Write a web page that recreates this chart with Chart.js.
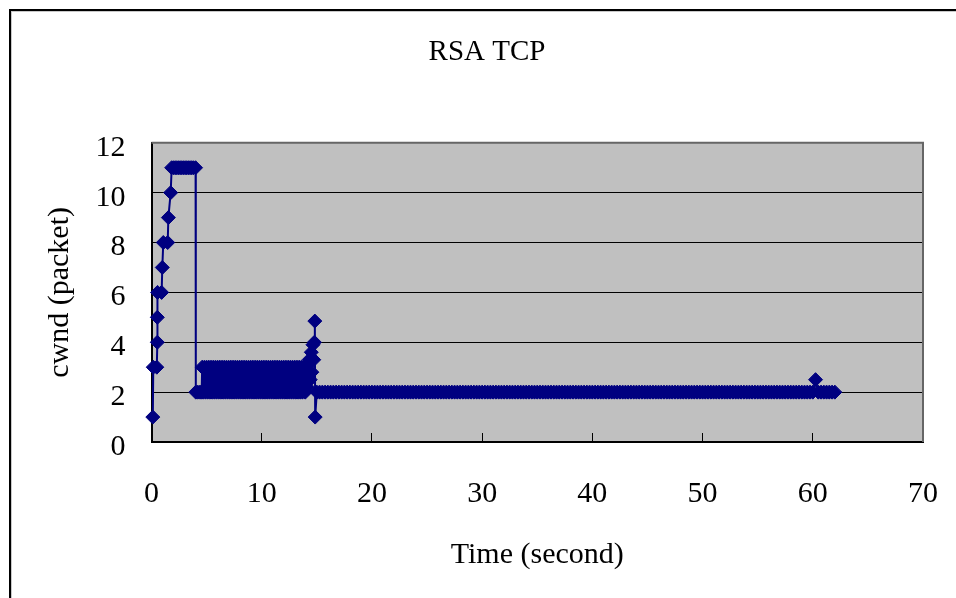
<!DOCTYPE html>
<html><head><meta charset="utf-8">
<script src="https://cdn.jsdelivr.net/npm/chart.js@4"></script>
<style>
html,body{margin:0;padding:0;background:#fff;overflow:hidden;}
#wrap{position:relative;width:956px;height:598px;overflow:hidden;}
#frame{position:absolute;left:9px;top:9px;width:1000px;height:1000px;border-top:2px solid #000;border-left:2px solid #000;box-shadow:inset 1px 1px 0 #c8c8c8;}
canvas{position:absolute;left:0;top:0;}
</style></head>
<body><div id="wrap"><div id="frame"></div><canvas id="c" width="956" height="598"></canvas></div>
<script>
// ---- data (time in seconds, cwnd in packets) ----
const riseTime = [0.12, 0.16, 0.48, 0.53, 0.53, 0.55, 0.92, 0.98, 1.07, 1.47, 1.53, 1.74];
const riseCwnd = [1, 3, 3, 4, 5, 6, 6, 7, 8, 8, 9, 10];

const plateauTime = [1.83, 2.0, 2.15, 2.3, 2.45, 2.6, 2.75, 2.9, 3.05, 3.2, 3.35, 3.5, 3.65, 3.8, 4.0];
const plateauCwnd = [11, 11, 11, 11, 11, 11, 11, 11, 11, 11, 11, 11, 11, 11, 11];

const dropTime = [4.02, 4.2, 4.4, 4.55];
const dropCwnd = [2, 2, 2, 2];

const bandTime = [
  4.6, 4.7, 4.8, 4.9, 5.0, 5.1, 5.2, 5.3, 5.4, 5.5,
  5.6, 5.7, 5.8, 5.9, 6.0, 6.1, 6.2, 6.3, 6.4, 6.5,
  6.6, 6.7, 6.8, 6.9, 7.0, 7.1, 7.2, 7.3, 7.4, 7.5,
  7.6, 7.7, 7.8, 7.9, 8.0, 8.1, 8.2, 8.3, 8.4, 8.5,
  8.6, 8.7, 8.8, 8.9, 9.0, 9.1, 9.2, 9.3, 9.4, 9.5,
  9.6, 9.7, 9.8, 9.9, 10.0, 10.1, 10.2, 10.3, 10.4, 10.5,
  10.6, 10.7, 10.8, 10.9, 11.0, 11.1, 11.2, 11.3, 11.4, 11.5,
  11.6, 11.7, 11.8, 11.9, 12.0, 12.1, 12.2, 12.3, 12.4, 12.5,
  12.6, 12.7, 12.8, 12.9, 13.0, 13.1, 13.2, 13.3, 13.4, 13.5,
  13.6, 13.7, 13.8];
const bandCwnd = [
  3, 2, 3, 2, 3, 2, 3, 2, 3, 2,
  3, 2, 3, 2, 3, 2, 3, 2, 3, 2,
  3, 2, 3, 2, 3, 2, 3, 2, 3, 2,
  3, 2, 3, 2, 3, 2, 3, 2, 3, 2,
  3, 2, 3, 2, 3, 2, 3, 2, 3, 2,
  3, 2, 3, 2, 3, 2, 3, 2, 3, 2,
  3, 2, 3, 2, 3, 2, 3, 2, 3, 2,
  3, 2, 3, 2, 3, 2, 3, 2, 3, 2,
  3, 2, 3, 2, 3, 2, 3, 2, 3, 2,
  3, 2, 3];

const burstTime = [13.95, 14.05, 14.15, 14.3, 14.4, 14.5, 14.55, 14.65, 14.72, 14.78, 14.82, 14.85];
const burstCwnd = [2, 3.1, 2.2, 3.3, 2.5, 3.6, 2.8, 3.9, 3.3, 4.0, 4.85, 1];

const tailTime = [
  15, 15.25, 15.5, 15.75, 16, 16.25, 16.5, 16.75, 17, 17.25, 17.5, 17.75, 18, 18.25, 18.5, 18.75,
  19, 19.25, 19.5, 19.75, 20, 20.25, 20.5, 20.75, 21, 21.25, 21.5, 21.75, 22, 22.25, 22.5, 22.75,
  23, 23.25, 23.5, 23.75, 24, 24.25, 24.5, 24.75, 25, 25.25, 25.5, 25.75, 26, 26.25, 26.5, 26.75,
  27, 27.25, 27.5, 27.75, 28, 28.25, 28.5, 28.75, 29, 29.25, 29.5, 29.75, 30, 30.25, 30.5, 30.75,
  31, 31.25, 31.5, 31.75, 32, 32.25, 32.5, 32.75, 33, 33.25, 33.5, 33.75, 34, 34.25, 34.5, 34.75,
  35, 35.25, 35.5, 35.75, 36, 36.25, 36.5, 36.75, 37, 37.25, 37.5, 37.75, 38, 38.25, 38.5, 38.75,
  39, 39.25, 39.5, 39.75, 40, 40.25, 40.5, 40.75, 41, 41.25, 41.5, 41.75, 42, 42.25, 42.5, 42.75,
  43, 43.25, 43.5, 43.75, 44, 44.25, 44.5, 44.75, 45, 45.25, 45.5, 45.75, 46, 46.25, 46.5, 46.75,
  47, 47.25, 47.5, 47.75, 48, 48.25, 48.5, 48.75, 49, 49.25, 49.5, 49.75, 50, 50.25, 50.5, 50.75,
  51, 51.25, 51.5, 51.75, 52, 52.25, 52.5, 52.75, 53, 53.25, 53.5, 53.75, 54, 54.25, 54.5, 54.75,
  55, 55.25, 55.5, 55.75, 56, 56.25, 56.5, 56.75, 57, 57.25, 57.5, 57.75, 58, 58.25, 58.5, 58.75,
  59, 59.25, 59.5, 59.75, 60, 60.25, 60.5, 60.75, 61, 61.25, 61.5, 61.75, 62];
const tailCwnd = [
  2, 2, 2, 2, 2, 2, 2, 2, 2, 2, 2, 2, 2, 2, 2, 2,
  2, 2, 2, 2, 2, 2, 2, 2, 2, 2, 2, 2, 2, 2, 2, 2,
  2, 2, 2, 2, 2, 2, 2, 2, 2, 2, 2, 2, 2, 2, 2, 2,
  2, 2, 2, 2, 2, 2, 2, 2, 2, 2, 2, 2, 2, 2, 2, 2,
  2, 2, 2, 2, 2, 2, 2, 2, 2, 2, 2, 2, 2, 2, 2, 2,
  2, 2, 2, 2, 2, 2, 2, 2, 2, 2, 2, 2, 2, 2, 2, 2,
  2, 2, 2, 2, 2, 2, 2, 2, 2, 2, 2, 2, 2, 2, 2, 2,
  2, 2, 2, 2, 2, 2, 2, 2, 2, 2, 2, 2, 2, 2, 2, 2,
  2, 2, 2, 2, 2, 2, 2, 2, 2, 2, 2, 2, 2, 2, 2, 2,
  2, 2, 2, 2, 2, 2, 2, 2, 2, 2, 2, 2, 2, 2, 2, 2,
  2, 2, 2, 2, 2, 2, 2, 2, 2, 2, 2, 2, 2, 2, 2, 2,
  2, 2, 2, 2, 2, 2.5, 2, 2, 2, 2, 2, 2, 2];

const chartTitle = 'RSA TCP';
const xTitle = 'Time (second)';
const yTitle = 'cwnd (packet)';
const xMin = 0, xMax = 70, xStep = 10;
const yMin = 0, yMax = 12, yStep = 2;

// ---- build points ----
const points = [];
function addSeg(ts, cs) { for (let i = 0; i < ts.length; i++) points.push({x: ts[i], y: cs[i]}); }
addSeg(riseTime, riseCwnd);
addSeg(plateauTime, plateauCwnd);
addSeg(dropTime, dropCwnd);
addSeg(bandTime, bandCwnd);
addSeg(burstTime, burstCwnd);
addSeg(tailTime, tailCwnd);

const F = "'Liberation Serif', 'Times New Roman', serif";
const NAVY = '#000080';

const plotArea = {
  id: 'plotArea',
  beforeDraw(chart) {
    const {ctx, chartArea: a} = chart;
    ctx.save();
    ctx.fillStyle = '#C0C0C0';
    ctx.fillRect(a.left, a.top, a.right - a.left, a.bottom - a.top);
    ctx.restore();
  },
  beforeDatasetsDraw(chart) {
    const {ctx, chartArea: a} = chart;
    ctx.save();
    ctx.strokeStyle = '#666666';
    ctx.lineWidth = 2;
    ctx.beginPath();
    ctx.moveTo(a.left, a.top);
    ctx.lineTo(a.right, a.top);
    ctx.lineTo(a.right, a.bottom);
    ctx.stroke();
    ctx.restore();
  }
};

new Chart(document.getElementById('c'), {
  type: 'scatter',
  data: {
    datasets: [{
      data: points,
      showLine: true,
      borderColor: NAVY,
      backgroundColor: NAVY,
      borderWidth: 2,
      tension: 0,
      pointStyle: 'rectRot',
      pointRadius: 7,
      pointBorderWidth: 1,
      pointBorderColor: NAVY,
      pointBackgroundColor: NAVY,
      clip: false
    }]
  },
  options: {
    responsive: false,
    animation: false,
    devicePixelRatio: 1,
    layout: {padding: {left: 51, right: 33, top: 0, bottom: 0}},
    plugins: {
      legend: {display: false},
      tooltip: {enabled: false},
      title: {
        display: true, text: chartTitle, color: '#000',
        font: {family: F, size: 29, weight: 'normal'},
        padding: {top: 35, bottom: 73}
      }
    },
    scales: {
      x: {
        type: 'linear', position: 'bottom', min: xMin, max: xMax,
        ticks: {stepSize: xStep, color: '#000', font: {family: F, size: 30, lineHeight: 3}, padding: 16, maxRotation: 0},
        grid: {drawOnChartArea: false, drawTicks: true, tickLength: -9, color: '#000', lineWidth: 1},
        border: {color: '#000', width: 2},
        title: {display: true, text: xTitle, color: '#000', font: {family: F, size: 30}, padding: {top: 0, bottom: 25}},
        afterFit(s) { s.height = 156; }
      },
      y: {
        type: 'linear', position: 'left', min: yMin, max: yMax,
        ticks: {stepSize: yStep, color: '#000', font: {family: F, size: 30}, padding: 26, labelOffset: 5},
        grid: {color: '#000', lineWidth: 1, drawTicks: false},
        border: {color: '#000', width: 2},
        title: {display: true, text: yTitle, color: '#000', font: {family: F, size: 30}, padding: {top: -8.5, bottom: 0}},
        afterFit(s) { s.width = 100.5; }
      }
    }
  },
  plugins: [plotArea]
});
</script></body></html>
